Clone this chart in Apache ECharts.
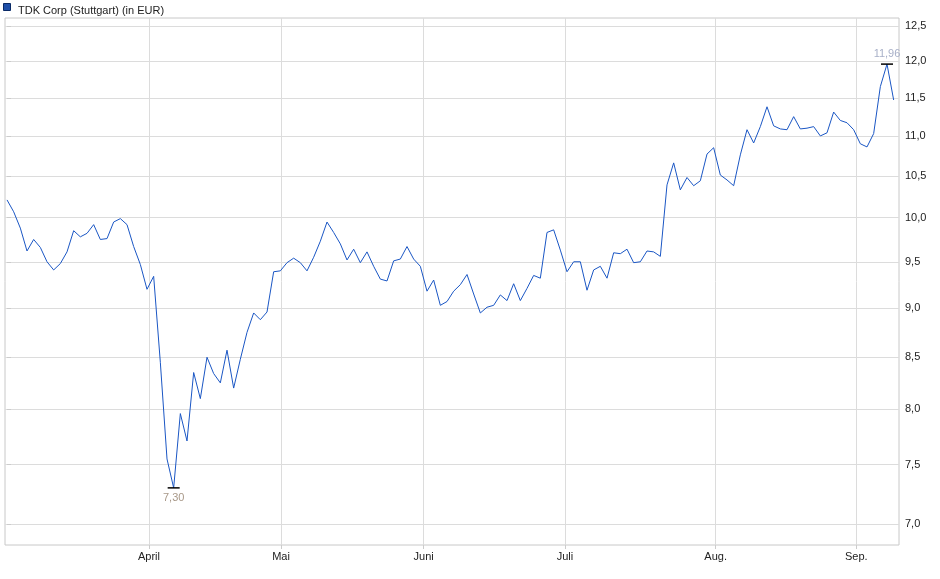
<!DOCTYPE html>
<html><head><meta charset="utf-8">
<script src="https://cdn.jsdelivr.net/npm/echarts@6/dist/echarts.min.js"></script>
<style>html,body{margin:0;padding:0;background:#fff}#c{width:940px;height:579px}</style>
</head><body><div id="c"></div>
<script>
var prices = [10.21,10.07,9.88,9.62,9.75,9.66,9.50,9.41,9.48,9.61,9.85,9.78,9.82,9.92,9.75,9.76,9.95,9.99,9.92,9.67,9.47,9.20,9.34,
8.45,7.55,7.30,7.96,7.71,8.35,8.10,8.50,8.34,8.25,8.57,8.20,8.48,8.75,8.95,8.88,8.96,9.39,9.40,9.49,9.54,
9.49,9.40,9.55,9.73,9.95,9.83,9.70,9.52,9.64,9.49,9.61,9.45,9.31,9.29,9.51,9.53,9.67,9.53,9.45,9.18,9.30,9.03,9.07,9.18,9.25,9.36,9.15,8.95,9.01,9.03,9.14,9.08,9.26,9.08,9.21,9.35,9.32,9.83,9.86,9.63,9.39,9.50,9.50,9.19,9.41,9.45,9.32,
9.60,9.59,9.64,9.49,9.50,9.62,9.61,9.56,10.39,10.66,10.33,10.48,10.38,10.44,10.77,10.85,10.51,10.45,10.38,10.76,11.08,10.91,11.12,11.38,11.13,11.09,11.08,11.25,11.09,11.10,11.12,11.00,11.04,11.31,11.20,11.17,11.08,10.90,10.86,11.03,11.65,11.96,11.47];
var monthLabels = ['April','Mai','Juni','Juli','Aug.','Sep.'];
var monthPos = [21.3,41.1,62.5,83.7,106.3,127.4];
var yTicks = [7.0,7.5,8.0,8.5,9.0,9.5,10.0,10.5,11.0,11.5,12.0,12.5];

var ln = Math.log;
var data = prices.map(function(v,i){return [i, ln(v)];});
var fmt = function(v){return Math.exp(v).toFixed(1).replace('.',',');};
var fmt2 = function(v){return v.toFixed(2).replace('.',',');};
var minV = Math.min.apply(null,prices), maxV = Math.max.apply(null,prices);
var chart = echarts.init(document.getElementById('c'));
chart.setOption({
  animation:false,
  title:{text:'TDK Corp (Stuttgart) (in EUR)',left:13,top:0,textStyle:{fontSize:11,fontWeight:'normal',color:'#222',fontFamily:'Liberation Sans'}},
  graphic:[{type:'rect',left:3,top:3,shape:{width:7,height:7},style:{fill:'#1f4fa8',stroke:'#0a2a66'}}],
  grid:{left:5,right:41,top:18,bottom:34,show:true,borderColor:'#c8c8c8',borderWidth:1},
  xAxis:{type:'value',min:-0.3,max:133.8,
    axisLine:{show:false},
    axisTick:{show:true,customValues:monthPos,length:4,lineStyle:{color:'#ccc'}},
    axisLabel:{customValues:monthPos,formatter:function(v){var k=monthPos.indexOf(v);return k>=0?monthLabels[k]:'';},fontSize:11,color:'#222',fontFamily:'Liberation Sans',margin:6},
    splitLine:{show:true,lineStyle:{color:'#dcdcdc'}}},
  yAxis:{type:'value',position:'right',min:ln(6.83),max:ln(12.62),
    axisLine:{show:false},
    axisTick:{show:true,customValues:yTicks.map(ln),length:4,inside:false,lineStyle:{color:'#ccc'}},
    axisLabel:{customValues:yTicks.map(ln),formatter:fmt,fontSize:11,color:'#222',fontFamily:'Liberation Sans',margin:6},
    splitLine:{show:true,lineStyle:{color:'#dcdcdc'}}},
  series:[{type:'line',data:data,showSymbol:false,lineStyle:{color:'#1a56c4',width:1},
    markPoint:{symbol:'rect',symbolSize:[12,1.5],itemStyle:{color:'#000'},
      data:[
        {coord:[prices.indexOf(minV),ln(minV)],label:{show:true,position:'bottom',distance:4,formatter:fmt2(minV),color:'#a89888',fontSize:11,fontFamily:'Liberation Sans'}},
        {coord:[prices.indexOf(maxV),ln(maxV)],label:{show:true,position:'top',distance:4,formatter:fmt2(maxV),color:'#a8b0c8',fontSize:11,fontFamily:'Liberation Sans'}}
      ]}}]
});
</script></body></html>
